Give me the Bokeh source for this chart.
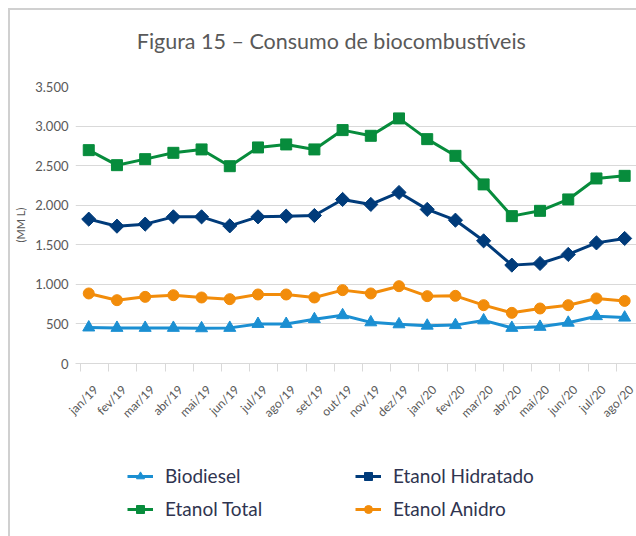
import numpy as np
from bokeh.plotting import figure
from bokeh.layouts import column
from bokeh.models import (ColumnDataSource, FixedTicker, Legend, LegendItem, Label, Range1d)
from bokeh.embed import file_html
from bokeh.resources import INLINE

months = ["jan/19", "fev/19", "mar/19", "abr/19", "mai/19", "jun/19", "jul/19", "ago/19",
          "set/19", "out/19", "nov/19", "dez/19", "jan/20", "fev/20", "mar/20", "abr/20",
          "mai/20", "jun/20", "jul/20", "ago/20"]
biodiesel = [455, 450, 450, 450, 445, 450, 500, 500, 560, 610, 520, 495, 478, 485, 545, 450, 463, 515, 598, 580]
etanol_hidratado = [1824, 1735, 1761, 1853, 1853, 1739, 1853, 1862, 1870, 2073, 2010, 2161, 1947, 1811, 1550, 1243, 1264, 1378, 1524, 1580]
etanol_total = [2696, 2506, 2582, 2662, 2705, 2493, 2730, 2768, 2705, 2949, 2877, 3097, 2835, 2624, 2263, 1862, 1929, 2073, 2338, 2371]
etanol_anidro = [885, 800, 842, 863, 834, 813, 872, 872, 834, 927, 885, 977, 851, 855, 737, 640, 695, 737, 822, 791]
y_ticks = [0, 500, 1000, 1500, 2000, 2500, 3000, 3500]
legend_order = ["Biodiesel", "Etanol Hidratado", "Etanol Total", "Etanol Anidro"]
title_text = "Figura 15 – Consumo de biocombustíveis"

x = list(range(len(months)))
src = ColumnDataSource(dict(x=x, bio=biodiesel, hid=etanol_hidratado, tot=etanol_total, ani=etanol_anidro))

FONT = "Lato"
GRAY = "#595959"
xr = Range1d(-0.47, len(months) - 1 + 0.42)

# ---- title strip ----
tf = figure(width=626, height=56, output_backend="svg", toolbar_location=None,
            x_range=xr, y_range=(0, 56), min_border=0)
tf.axis.visible = False
tf.grid.visible = False
tf.outline_line_color = None
tf.add_layout(Label(x=8.6, y=26, text=title_text, text_font=FONT, text_font_size="21.5px",
                    text_color=GRAY, text_align="center", text_baseline="middle"))

# ---- main chart ----
p = figure(width=626, height=370, output_backend="svg", toolbar_location=None,
           x_range=xr, y_range=(0, 3500),
           min_border_left=65, min_border_right=0, min_border_top=20, min_border_bottom=73)
p.outline_line_color = None
p.background_fill_color = "white"

p.xgrid.grid_line_color = None
p.ygrid.grid_line_color = "#d9d9d9"
p.ygrid.grid_line_width = 1
p.ygrid.ticker = FixedTicker(ticks=y_ticks)

p.yaxis.ticker = FixedTicker(ticks=y_ticks)
p.yaxis.major_label_overrides = {v: f"{v:,}".replace(",", ".") for v in y_ticks}
p.yaxis.axis_line_color = None
p.yaxis.major_tick_line_color = None
p.yaxis.minor_tick_line_color = None
p.yaxis.major_tick_out = 0
p.yaxis.major_label_standoff = 7
p.yaxis.major_label_text_font = FONT
p.yaxis.major_label_text_font_size = "13px"
p.yaxis.major_label_text_color = GRAY
p.yaxis.axis_label = "(MM L)"
p.yaxis.axis_label_text_font = FONT
p.yaxis.axis_label_text_font_size = "11px"
p.yaxis.axis_label_text_font_style = "normal"
p.yaxis.axis_label_text_color = GRAY
p.yaxis.axis_label_standoff = 5

label_pos = [i + 0.25 for i in x]
bounds = [i - 0.295 for i in range(len(months) + 1)]
p.xaxis.ticker = FixedTicker(ticks=label_pos, minor_ticks=bounds)
p.xaxis.major_label_overrides = {pos: m for pos, m in zip(label_pos, months)}
p.xaxis.axis_line_color = "#d9d9d9"
p.xaxis.major_tick_line_color = None
p.xaxis.major_tick_out = 0
p.xaxis.major_tick_in = 0
p.xaxis.minor_tick_line_color = "#d9d9d9"
p.xaxis.minor_tick_in = 0
p.xaxis.minor_tick_out = 8
p.xaxis.major_label_orientation = np.pi / 4
p.xaxis.major_label_standoff = 16
p.xaxis.major_label_text_font = FONT
p.xaxis.major_label_text_font_size = "12px"
p.xaxis.major_label_text_color = GRAY

series = [
    ("bio", "Biodiesel", "#1b8fd2", "triangle", 12, 0.0),
    ("hid", "Etanol Hidratado", "#003b7a", "square", 10, np.pi / 4),
    ("tot", "Etanol Total", "#078c3c", "square", 11, 0.0),
    ("ani", "Etanol Anidro", "#f28c0a", "circle", 11, 0.0),
]

# ---- legend strip (same series, drawn out of view; only the legend shows) ----
lg = figure(width=626, height=100, output_backend="svg", toolbar_location=None,
            x_range=xr, y_range=(-2, -1), min_border=0)
lg.axis.visible = False
lg.grid.visible = False
lg.outline_line_color = None

items = {}
for key, name, color, marker, size, ang in series:
    p.line("x", key, source=src, line_color=color, line_width=3)
    p.scatter("x", key, source=src, marker=marker, size=size, angle=ang,
              fill_color=color, line_color=color)
    l = lg.line("x", key, source=src, line_color=color, line_width=3)
    s = lg.scatter("x", key, source=src, marker=marker, size=size, angle=ang,
                   fill_color=color, line_color=color)
    items[name] = [l, s]

legend = Legend(items=[LegendItem(label=n, renderers=items[n]) for n in legend_order],
                orientation="horizontal", ncols=2,
                location=(52, 16), padding=0, margin=0, spacing=10,
                glyph_width=26, glyph_height=20, label_height=20, label_width=180,
                label_standoff=12, border_line_color=None, background_fill_alpha=0,
                label_text_font=FONT, label_text_font_size="19px", label_text_color="#2f3450")
lg.add_layout(legend, "center")

layout = column(tf, p, lg, spacing=0,
                styles={"margin-left": "8px", "margin-top": "8px",
                        "border-top": "2px solid #d0d0d0", "border-left": "2px solid #d0d0d0"})

open("out.html", "w").write(file_html(layout, INLINE))
